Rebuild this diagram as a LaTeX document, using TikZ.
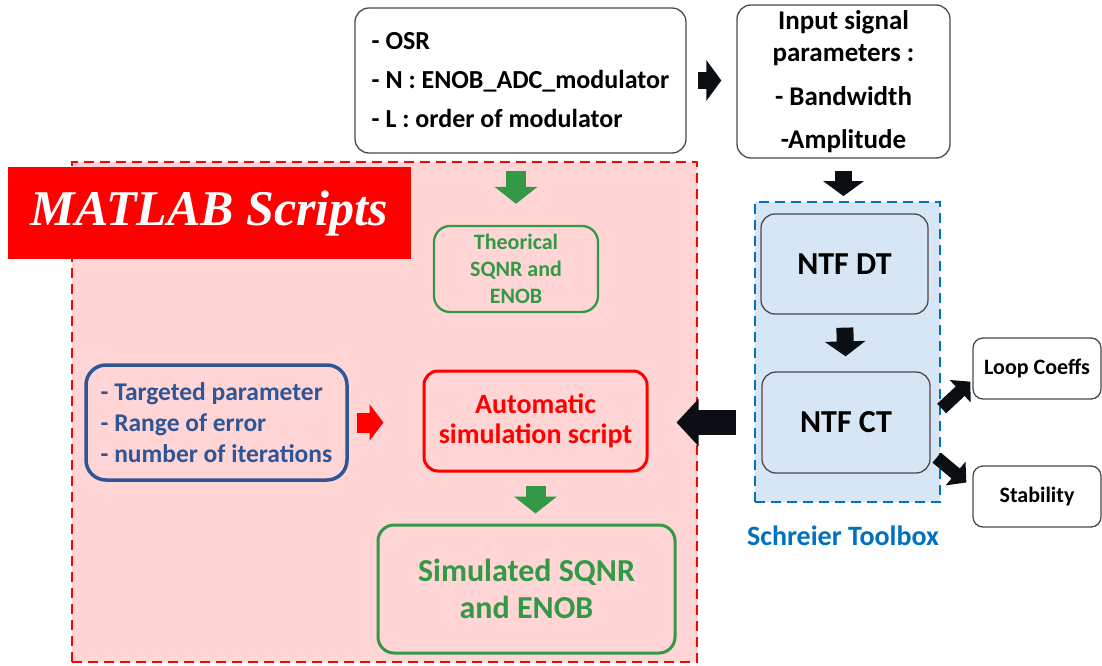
\documentclass[tikz,border=0pt]{standalone}
\usepackage{fontspec}
\setmainfont{Carlito}
\newfontfamily\tagfont{Liberation Serif}
\usetikzlibrary{arrows.meta,positioning}
\definecolor{MatRed}{HTML}{FF0000}
\definecolor{MatBack}{HTML}{FFD5D5}
\definecolor{ResGreen}{HTML}{339947}
\definecolor{ParBlue}{HTML}{2F5597}
\definecolor{ToolBlue}{HTML}{0070C0}
\definecolor{ToolBack}{HTML}{D6E6F4}
\definecolor{BoxGray}{HTML}{4A4A4A}
\definecolor{ArrowDark}{HTML}{0B0F14}
\tikzset{every node/.style={font=\bfseries},
 box/.style={draw=BoxGray,line width=1.3pt,rounded corners=14pt,fill=white,align=center},
 ntfbox/.style={box,fill=ToolBack,minimum width=167pt,minimum height=100pt,
  font=\bfseries\fontsize{32}{36}\selectfont},
 sidebox/.style={box,rounded corners=10pt,minimum width=128pt,minimum height=61pt,
  font=\bfseries\fontsize{22}{26}\selectfont},
 greenbox/.style={draw=ResGreen,text=ResGreen,fill=MatBack,rounded corners=16pt,align=center},
 fatarrow/.style={line width=17pt,draw=ArrowDark,-{Triangle[width=40pt,length=15pt]}},
 sidearrow/.style={line width=13pt,draw=ArrowDark,-{Triangle[width=30pt,length=14pt]}}}
\begin{document}
\frenchspacing
\begin{tikzpicture}[x=1pt,y=-1pt]
\useasboundingbox (0,0) rectangle (1102,666);
% dashed groups first, boxes on top of them
\node[draw=MatRed,fill=MatBack,dash pattern=on 10pt off 6pt,line width=1.8pt,
 minimum width=625pt,minimum height=500pt] (matlab) at (384.5,412){};
\node[fill=MatRed,text=white,minimum width=403pt,minimum height=92pt,
 font=\tagfont\bfseries\itshape\fontsize{50}{54}\selectfont] (tag) at (209.5,213){MATLAB Scripts};
\node[draw=ToolBlue,fill=ToolBack,dash pattern=on 10pt off 6pt,line width=1.8pt,
 minimum width=185pt,minimum height=300pt] (schreier) at (847.5,352){};
\node[text=ToolBlue,font=\bfseries\fontsize{28}{32}\selectfont] (toolbox) at (843,536){Schreier Toolbox};

\node[box,align=left,minimum width=331pt,minimum height=145pt,
 font=\bfseries\fontsize{26}{39}\selectfont] (params) at (520.5,80.5)
 {- OSR\\- N : ENOB\_ADC\_modulator\\- L : order of modulator};
\node[box,minimum width=213pt,minimum height=153pt,
 font=\bfseries\fontsize{27}{32}\selectfont] (input) at (843.5,81.5)
 {Input signal\\parameters :\\[12pt]- Bandwidth\\[11pt]-Amplitude};
\node[ntfbox] (ntfdt) at (844.5,264){NTF DT};
\node[ntfbox,minimum width=168pt,minimum height=101pt] (ntfct) at (846,422.5){NTF CT};
\node[sidebox] (loop) at (1037,368.5){Loop Coeffs};
\node[sidebox] (stab) at (1037,496.5){Stability};

\node[greenbox,line width=2.3pt,minimum width=164pt,minimum height=86pt,
 font=\bfseries\fontsize{22}{27}\selectfont] (theor) at (516,269){Theorical\\SQNR and\\ENOB};
\node[draw=ParBlue,text=ParBlue,fill=MatBack,line width=3.5pt,rounded corners=20pt,
 align=left,minimum width=261pt,minimum height=115pt,
 font=\bfseries\fontsize{25.5}{31}\selectfont] (iter) at (216.5,422.5)
 {- Targeted parameter\\- Range of error\\- number of iterations};
\node[draw=MatRed,text=MatRed,fill=MatBack,line width=3pt,rounded corners=14pt,align=center,
 minimum width=223pt,minimum height=100pt,font=\bfseries\fontsize{28}{30}\selectfont]
 (auto) at (535.5,421){Automatic\\simulation script};
\node[greenbox,line width=3pt,minimum width=297pt,minimum height=128pt,
 font=\bfseries\fontsize{32}{37}\selectfont] (sim) at (526.5,589){Simulated SQNR\\and ENOB};

\draw[fatarrow,shorten <=11pt,shorten >=15pt] (params.east) -- (params.east -| input.west);
\draw[fatarrow,shorten <=12pt,shorten >=5pt] (input.south) -- (input.south |- schreier.north);
\draw[fatarrow,shorten <=13pt,shorten >=15pt] (ntfdt.south) -- (ntfct.north);
\draw[fatarrow,line width=25pt,-{Triangle[width=46pt,length=22pt]},shorten <=25pt,shorten >=28pt]
 (ntfct.west) -- (ntfct.west -| auto.east);
\draw[sidearrow] ([xshift=11pt,yshift=14pt]ntfct.east) -- ([xshift=-2pt,yshift=18pt]loop.south west);
\draw[sidearrow] ([xshift=6pt,yshift=16pt]ntfct.south east) -- ([xshift=-6pt,yshift=14pt]stab.west);
\draw[fatarrow,draw=ResGreen,line width=20pt,-{Triangle[width=42pt,length=17pt]},
 shorten <=17pt,shorten >=21pt] (theor.north |- params.south) -- (theor.north);
\draw[fatarrow,draw=ResGreen,line width=20pt,-{Triangle[width=42pt,length=17pt]},
 shorten <=13pt,shorten >=10pt] (auto.south) -- (auto.south |- sim.north);
\draw[fatarrow,draw=MatRed,line width=20pt,-{Triangle[width=36pt,length=14pt]},
 shorten <=8pt,shorten >=39pt] (iter.east) -- (iter.east -| auto.west);
\end{tikzpicture}
\end{document}
